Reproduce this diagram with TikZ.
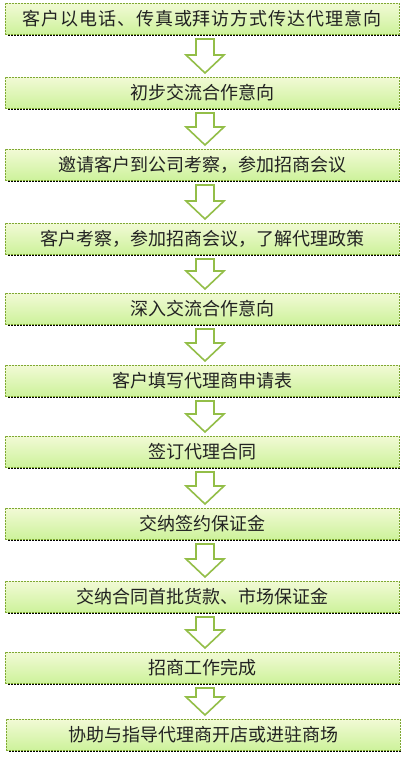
\documentclass[tikz,border=0pt]{standalone}
\usepackage{fontspec}
\newfontfamily\cjk{Noto Sans CJK SC}
\usetikzlibrary{calc}
\definecolor{boxtop}{HTML}{F2FAD6}
\definecolor{boxbot}{HTML}{CDF29B}
\definecolor{boxline}{HTML}{7FA832}
\definecolor{arrline}{HTML}{93BE48}
\definecolor{txt}{HTML}{222222}
\tikzset{
  stepbox/.style={draw=boxline, line width=1pt, dash pattern=on 2pt off 1pt,
    top color=boxtop, bottom color=boxbot, minimum width=394pt, minimum height=31pt,
    inner sep=0pt, outer sep=0pt, text=txt, font=\cjk\fontsize{18}{20}\selectfont},
  shadowline/.style={draw=black, line width=1.2pt, dash pattern=on 2pt off 1pt},
  hollowarrow/.style={draw=arrline, fill=white, line width=1.6pt, line join=miter}
}
\newcommand\flowarrow[2]{%
  \draw[hollowarrow] let \p1=(#1.south), \p2=(#2.north) in
    (196pt,\y1-5pt) -- (214pt,\y1-5pt) -- (214pt,\y2+22pt) -- (224pt,\y2+22pt)
    -- (205pt,\y2+4pt) -- (186pt,\y2+22pt) -- (196pt,\y2+22pt) -- cycle;}
\newcommand\boxshadow[1]{%
  \draw[shadowline] ([xshift=3pt,yshift=-1.8pt]#1.south west) -- ([xshift=1pt,yshift=-1.8pt]#1.south east);}
\begin{document}
\begin{tikzpicture}[x=1pt,y=1pt]
\useasboundingbox (0,0) rectangle (406,-763);
\fill[white] (0,0) rectangle (406,-763);
\node[stepbox] (b1) at (202,-18.5) {\addfontfeature{LetterSpace=5}客户以电话、传真或拜访方式传达代理意向};
\node[stepbox] (b2) at (202,-92.5) {初步交流合作意向};
\node[stepbox] (b3) at (202,-164.5) {邀请客户到公司考察，参加招商会议};
\node[stepbox] (b4) at (202,-238.5) {客户考察，参加招商会议，了解代理政策};
\node[stepbox] (b5) at (202,-308.5) {深入交流合作意向};
\node[stepbox] (b6) at (202,-380.5) {客户填写代理商申请表};
\node[stepbox] (b7) at (202,-451.5) {签订代理合同};
\node[stepbox] (b8) at (202,-523.5) {交纳签约保证金};
\node[stepbox] (b9) at (202,-596.5) {交纳合同首批货款、市场保证金};
\node[stepbox] (b10) at (202,-667.5) {招商工作完成};
\node[stepbox] (b11) at (203,-734.5) {协助与指导代理商开店或进驻商场};
\foreach \n in {b1,b2,b3,b4,b5,b6,b7,b8,b9,b10,b11} {\boxshadow{\n}}
\flowarrow{b1}{b2}
\flowarrow{b2}{b3}
\flowarrow{b3}{b4}
\flowarrow{b4}{b5}
\flowarrow{b5}{b6}
\flowarrow{b6}{b7}
\flowarrow{b7}{b8}
\flowarrow{b8}{b9}
\flowarrow{b9}{b10}
\flowarrow{b10}{b11}
\end{tikzpicture}
\end{document}
